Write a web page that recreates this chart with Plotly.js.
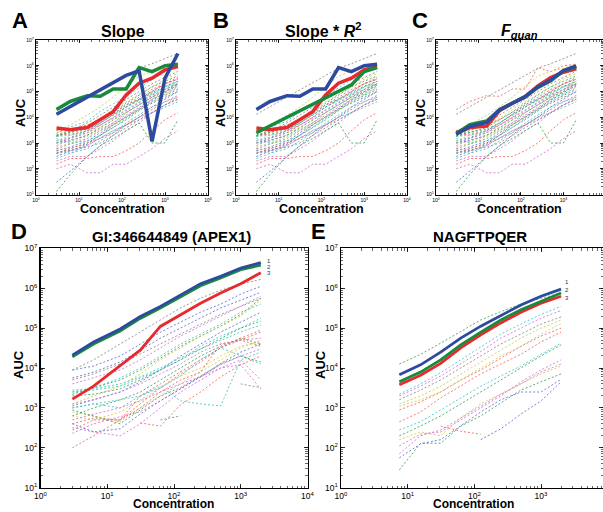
<!DOCTYPE html>
<html><head><meta charset="utf-8">
<script src="https://cdn.plot.ly/plotly-3.0.1.min.js"></script>
<style>html,body{margin:0;padding:0;background:#fff}#chart{width:603px;height:512px}</style>
</head><body><div id="chart"></div>
<script>
// ---------- data ----------
const topConc = [3, 6.25, 15.6, 31.25, 62.5, 125, 250, 500, 1000, 2000];
const dConc = [3, 6.25, 15.6, 31.25, 62.5, 125, 250, 500, 1000, 2000];
const eConc = [7.5, 15.6, 31.25, 62.5, 125, 250, 500, 1000, 2000];
const decadeVals = [1, 10, 100, 1e3, 1e4, 1e5, 1e6, 1e7];
const decadeLabels = ['10<sup>0</sup>','10<sup>1</sup>','10<sup>2</sup>','10<sup>3</sup>','10<sup>4</sup>','10<sup>5</sup>','10<sup>6</sup>','10<sup>7</sup>'];

// Panel A highlighted series
const aGreen = [2e4, 4.1e4, 6.9e4, 6.5e4, 1.25e5, 1.25e5, 8.5e5, 5.9e5, 1e6, 1.15e6];
const aBlue  = [1.3e4, 2.6e4, 6e4, 1.15e5, 2.2e5, 4.2e5, 6.3e5, 1.15e3, 3.3e5, 3e6];
const aRed   = [3.8e3, 3.3e3, 4e3, 8e3, 1.65e4, 7.4e4, 2.1e5, 3.3e5, 6.9e5, 9.3e5];
// Panel B highlighted series
const bBlue  = [2e4, 4.1e4, 6.9e4, 6.5e4, 1.25e5, 1.25e5, 8.5e5, 5.9e5, 1e6, 1.15e6];
const bRed   = [3.8e3, 3.3e3, 4e3, 8e3, 1.65e4, 7.4e4, 2.1e5, 3.3e5, 6.9e5, 9.3e5];
const bGreen = [2.5e3, 4.6e3, 9.8e3, 1.7e4, 3.2e4, 5.6e4, 1e5, 1.8e5, 5.9e5, 8.5e5];
// Panel C highlighted series
const cRed   = [2.5e3, 4e3, 4.5e3, 1.8e4, 3.5e4, 6.3e4, 1.66e5, 3.5e5, 5.6e5, 7.6e5];
const cGreen = [2.3e3, 5.2e3, 7.1e3, 1.9e4, 3.5e4, 6.1e4, 1.45e5, 2.6e5, 6.3e5, 8.9e5];
const cBlue  = [2.2e3, 4.4e3, 6.3e3, 1.95e4, 3.5e4, 6.3e4, 1.5e5, 2.8e5, 6.5e5, 9.8e5];
// Panel D highlighted series (1 blue, 2 green, 3 red)
const dBlue  = [2.1e4, 4.5e4, 9.5e4, 1.95e5, 3.5e5, 6.6e5, 1.3e6, 2e6, 3.2e6, 4.4e6];
const dGreen = [1.9e4, 4e4, 8.5e4, 1.75e5, 3.2e5, 6e5, 1.15e6, 1.8e6, 2.9e6, 3.8e6];
const dRed   = [1.66e3, 3.5e3, 1.15e4, 2.8e4, 1.1e5, 2.2e5, 4.2e5, 7.6e5, 1.3e6, 2.45e6];
// Panel E highlighted series
const eBlue  = [6.8e3, 1.2e4, 2.5e4, 5.6e4, 1.12e5, 2.1e5, 3.8e5, 6.3e5, 9.5e5];
const eGreen = [4.5e3, 7.9e3, 1.6e4, 3.8e4, 7.9e4, 1.6e5, 2.9e5, 4.8e5, 7.6e5];
const eRed   = [3.8e3, 6.6e3, 1.3e4, 3.2e4, 6.8e4, 1.35e5, 2.5e5, 4.2e5, 6.3e5];

// background peptides shared by panels A-C
const topBackground = [
  [1.3e4, 2.6e4, 6e4, 1.15e5, 2.2e5, 4.2e5, 8e5, 1.2e6, 1.9e6, 3e6],
  [2e4, 4.1e4, 6.9e4, 6.5e4, 1.25e5, 1.25e5, 8.5e5, 5.9e5, 1e6, 1.15e6],
  [3e3, 5e3, 1.2e4, 2.5e4, 6e4, 1.5e5, 4e5, 6e5, 8e5, 1.2e6],
  [2.4e3, 4.2e3, 7e3, 1.7e4, 3.3e4, 6e4, 1.4e5, 2.8e5, 5.8e5, 9e5],
  [1.8e3, 2.5e3, 4e3, 8e3, 1.6e4, 3.5e4, 7e4, 1.5e5, 2.5e5, 4e5],
  [1.2e3, 1.6e3, 3e3, 6e3, 1.3e4, 3e4, 5e4, 1e5, 2e5, 3e5],
  [1e3, 1.5e3, 2.5e3, 5e3, 1e4, 2e4, 4e4, 8e4, 1.5e5, 2.5e5],
  [8e2, 1.3e3, 2e3, 3.5e3, 6e3, 1.2e4, 2.5e4, 5e4, 1e5, 1.6e5],
  [2.5e3, 3e3, 5e3, 9e3, 2e4, 4e4, 8e4, 1.6e5, 3e5, 5e5],
  [6e2, 9e2, 1.5e3, 3e3, 6e3, 1.5e4, 3e4, 6e4, 1.2e5, 2e5],
  [2e3, 2.2e3, 3e3, 5e3, 1e4, 2.5e4, 5e4, 1e5, 2e5, 3e5],
  [4e2, 6e2, 1e3, 2e3, 4e3, 8e3, 1.8e4, 4e4, 7e4, 1.2e5],
  [3e2, 5e2, 9e2, 2e3, 5e3, 1e4, 2e4, 3.5e4, 6e4, 1e5],
  [1.5e3, 1e3, 1.2e3, 2e3, 4e3, 9e3, 2e4, 5e4, 8e4, 1.4e5],
  [2e2, 3e2, 3e2, 6e2, 1.2e3, 3e3, 6e3, 1.5e4, 3e4, 5e4],
  [1e2, 1.5e2, 7e1, 7e1, 1.5e2, 1.5e2, 3e2, 6e2, 1.5e3, 3e3],
  [1.3e1, 6e1, 3e2, 8e2, 1.5e3, 3e3, 6e3, 1e3, 1e3, 8e3],
  [1.5e2, 2.5e2, 2.5e2, 3e2, 3e2, 5e2, 1e3, 3e3, 8e3, 1.5e4],
  [5e2, 4e2, 6e2, 1.2e3, 2.5e3, 6e3, 1.2e4, 2.5e4, 4e4, 6e4],
  [7e2, 1e3, 1.8e3, 3e3, 5e3, 1e4, 2e4, 4e4, 8e4, 1.5e5],
  [2e3, 3e3, 6e3, 1.2e4, 2.5e4, 5e4, 1e5, 2e5, 3.5e5, 6e5],
  [5e2, 7e2, 1.2e3, 2.5e3, 5e3, 1.1e4, 2.2e4, 4.5e4, 9e4, 1.8e5],
  [3e3, 3.5e3, 5e3, 8e3, 1.5e4, 3e4, 6e4, 1.2e5, 2e5, 3.5e5],
  [1e3, 1.2e3, 2e3, 4e3, 8e3, 1.5e4, 3e4, 6e4, 1e5, 2e5],
  [2.5e2, 4e2, 8e2, 1.5e3, 3e3, 5e3, 1e4, 1.5e4, 2.5e4, 4e4],
  [6e2, 5e2, 8e2, 1.5e3, 3e3, 5e3, 8e3, 1.5e4, 3e4, 6e4],
  [1.2e3, 2e3, 2.5e3, 4e3, 8e3, 1.6e4, 3e4, 7e4, 1.2e5, 2.5e5],
  [3e1, 8e1, 3e2, 8e2, 2e3, 5e3, 1e4, 2.5e4, 5e4, 1e5],
  [4e2, 5e2, 7e2, 1e3, 2e3, 4e3, 8e3, 1.5e4, 3e4, 5e4],
  [2e3, 2.5e3, 3.5e3, 6e3, 1.2e4, 2.5e4, 4.5e4, 9e4, 1.6e5, 2.5e5],
  [4e2, 6e2, 1e3, 1.5e3, 2.5e3, 5e3, 1e4, 2e4, 4e4, 7e4],
  [1.8e3, 2e3, 3e3, 6e3, 1.2e4, 2.5e4, 5e4, 8e4, 1.5e5, 2e5],
  [1e3, 1.5e3, 2.5e3, 5e3, 9e3, 1.8e4, 3.5e4, 7e4, 1.2e5, 2e5]
];
const topBackgroundColors = 'krycgbcmykrgbcmmgrcykbrgcmybkgrcm';

// background peptides of protein APEX1 (panel D)
const dBackground = [
  [8.9e3, 1.6e4, 4e4, 7.9e4, 1.6e5, 3.2e5, 5.6e5, 8.9e5, 1.26e6, 1.66e6],
  [8.9e3, 1.12e4, 2e4, 4e4, 7.9e4, 1.41e5, 2.5e5, 4e5, 7.1e5, 1.12e6],
  [5.6e3, 7.9e3, 1.41e4, 2.8e4, 5.6e4, 1e5, 1.78e5, 3.2e5, 5e5, 7.9e5],
  [5e3, 7.1e3, 1.26e4, 2.2e4, 4e4, 7.1e4, 1.26e5, 2.2e5, 3.5e5, 5.6e5],
  [4e3, 5.6e3, 8.9e3, 1.6e4, 3.2e4, 6.3e4, 1.12e5, 2e5, 3.5e5, 6.3e5],
  [2.5e3, 3.2e3, 5.6e3, 1e4, 2e4, 4e4, 7.1e4, 1.26e5, 2.5e5, 4e5],
  [2.2e3, 3.2e3, 5e3, 8.9e3, 1.78e4, 3.5e4, 6.3e4, 1.12e5, 2.2e5, 5.6e5],
  [1.26e3, 2e3, 3.5e3, 7.1e3, 1.6e4, 3.2e4, 6.3e4, 1.12e5, 2e5, 5e5],
  [1.12e3, 1.6e3, 2.5e3, 4.5e3, 8.9e3, 2e4, 4e4, 7.9e4, 1.41e5, 2.5e5],
  [2.5e3, 2.8e3, 3.5e3, 5.6e3, 8.9e3, 1.6e4, 3.5e4, 6.3e4, 1e5, 1.78e5],
  [1e2, 2e2, 5e2, 1.26e3, 3.2e3, 7.1e3, 1.41e4, 3.2e4, 5e4, 7.9e4],
  [2.8e2, 5e2, 5e2, 2e3, 4e3, 7.9e3, 1.6e4, 3.2e4, 5.6e4, 8.9e4],
  [1.26e3, 1.6e3, 2.5e3, 4e3, 7.1e3, 1.26e4, 2.5e4, 4e4, 5e4, 5.6e4],
  [6.3e2, 1e3, 1.6e3, 2.5e3, 5e3, 1e4, 2e4, 3.5e4, 5.6e4, 4e4],
  [1e3, 1.26e3, 1e3, 2e3, 3.2e3, 6.3e3, 1.6e4, 3.2e4, 2e4, 1.26e4],
  [7.9e2, 6.3e2, 4.5e2, 1e3, 2e3, 4e3, 7.9e3, 1.6e4, 3.2e4, 5e4],
  [1e3, 1.26e3, 1.6e3, 2e3, 3.5e3, 1.5e3, 1.26e3, 1.12e3, 1.6e4, 2.5e4],
  [4e2, 5.6e2, 5e2, 1e3, 2.5e3, 5e3, 7.9e3, 4e4, 5e4, 3.5e4],
  [3.2e2, 2.5e2, 2e2, 4e2, 1e3, 2.5e3, 5e3, 1e4, 1.6e4, 5e3],
  [8.9e2, 6.3e2, 4e2, 8.9e2, 2e3, 3.2e3, 6.3e3, 1.26e4, 2e4, 1.41e4],
  [6.3e2, 5e2, 7.9e2, 1.6e3, 3.2e3, 6.3e3, 1e4, 2e4, 3.5e4, 4.5e4],
  [null, null, null, null, 5e2, 6.3e2, null, null, null, null],
  [null, null, null, 4.2e2, 3.5e2, 1.2e3, 2.5e3, 6e3, 1.2e4, 2e4],
  [2.3e2, 4e2, 6e2, 8e2, 1.5e3, 3e3, 6e3, 1.2e4, 2e4, 3e4],
  [null, null, null, null, null, null, null, null, 4e3, 3.2e3],
  [4e2, 2.5e2, 3e2, 7e2, 1.5e3, 3e3, 6e3, 1.3e4, 2.5e4, 4e4],
  [5e2, 7e2, 1e3, 1.5e3, 2.5e3, 4e3, 6e3, 1e4, 1.2e4, 3e3],
  [2.8e3, 3e3, 4e3, 6e3, 1e4, 1.8e4, 3e4, 5e4, 8e4, 1.2e5],
  [2e3, 2.2e3, 3e3, 5e3, 9e3, 1.6e4, 3e4, 5.5e4, 1e5, 1.5e5]
];
const dBackgroundColors = 'kbbkmcgybcrrmgcycrmgykrmkbmcg';

// background peptides of NAGFTPQER (panel E)
const eBackground = [
  [1.26e4, 2.2e4, 4.2e4, 8.3e4, 1.6e5, 2.6e5, 4e5, 5.6e5, 7.6e5],
  [2.2e3, 4e3, 7.6e3, 1.6e4, 3.3e4, 7.1e4, 1.26e5, 2.2e5, 3.5e5],
  [2e3, 3.5e3, 6.3e3, 1.26e4, 2.6e4, 5.6e4, 1e5, 1.78e5, 2.75e5],
  [1.6e3, 2.8e3, 5e3, 1e4, 2e4, 4e4, 7.1e4, 1.26e5, 1.9e5],
  [1.26e3, 2e3, 3.5e3, 7.1e3, 1.41e4, 2.8e4, 5.6e4, 1e5, 1.6e5],
  [8.9e2, 1.41e3, 2.5e3, 5e3, 8.9e3, 1.78e4, 3.5e4, 6.3e4, 1e5],
  [4.5e2, 7.9e2, 1.78e3, 3.5e3, 7.1e3, 1.26e4, 2.2e4, 4.5e4, 7.9e4],
  [2.8e2, 4.5e2, 8.9e2, 1.78e3, 3.5e3, 6.3e3, 1.12e4, 2.2e4, 4.2e4],
  [2e2, 3.5e2, 6.3e2, 1.26e3, 2.5e3, 5e3, 1e4, 2e4, 3.8e4],
  [1.12e2, 2.2e2, 2.5e2, 5e2, 1e3, 2e3, 4.5e3, 8.9e3, 1.6e4],
  [2.8e1, 1.3e2, 1.3e2, 3.5e2, 6.3e2, 1.3e3, 2.8e3, 4.5e3, 7.1e3],
  [5.6e1, 1.26e2, 1.6e2, 3.5e2, 7.9e2, 1.6e3, 2.5e3, 2.5e3, 5.2e3],
  [1.6e2, 2.5e2, 2e2, 5.6e2, 1.26e3, 2.2e3, 4e3, 7.1e3, 1.12e4],
  [null, null, 3.5e2, 2.6e2, 2.2e2, null, null, null, null],
  [null, null, null, null, 1.6e2, 3e2, 7e2, 1.5e3, 4.5e3],
  [7.1e1, 2e2, 2.8e2, 5.6e2, 1.12e3, 2.2e3, 4e3, 7.9e3, 1.26e4],
  [1.1e3, 1.6e3, 2.5e3, 5e3, 1e4, 2e4, 3.5e4, 7e4, 1.3e5]
];
const eBackgroundColors = 'gcmkyrrcgmgbyrbmy';

// ---------- styles ----------
const dashPalette = {r:'#ee5a50', g:'#2f9a4a', b:'#5565cc', c:'#33c2c8', m:'#d266d2', y:'#c8c838', k:'#808080'};
const boldBlue = '#2d4a9e', boldGreen = '#178a3c', boldRed = '#e8292d';
const W = 603, H = 512;
const px = v => v / W, py = v => 1 - v / H;

const traces = [];
function addBg(seriesList, colors, x, xa, ya) {
  seriesList.forEach((s, i) => traces.push({
    x: x, y: s, xaxis: xa, yaxis: ya, type: 'scatter', mode: 'lines',
    line: {color: dashPalette[colors[i % colors.length]], width: 0.8, dash: '2px,2px'},
    hoverinfo: 'skip', showlegend: false, connectgaps: false
  }));
}
function addBold(s, color, x, xa, ya, w) {
  traces.push({x: x, y: s, xaxis: xa, yaxis: ya, type: 'scatter', mode: 'lines',
    line: {color: color, width: w}, showlegend: false});
}

// A
addBg(topBackground, topBackgroundColors, topConc, 'x', 'y');
addBold(aRed, boldRed, topConc, 'x', 'y', 3.5);
addBold(aGreen, boldGreen, topConc, 'x', 'y', 3.5);
addBold(aBlue, boldBlue, topConc, 'x', 'y', 3.5);
// B
addBg(topBackground, topBackgroundColors, topConc, 'x2', 'y2');
addBold(bRed, boldRed, topConc, 'x2', 'y2', 3.5);
addBold(bGreen, boldGreen, topConc, 'x2', 'y2', 3.5);
addBold(bBlue, boldBlue, topConc, 'x2', 'y2', 3.5);
// C
addBg(topBackground, topBackgroundColors, topConc, 'x3', 'y3');
addBold(cRed, boldRed, topConc, 'x3', 'y3', 3.5);
addBold(cGreen, boldGreen, topConc, 'x3', 'y3', 3.5);
addBold(cBlue, boldBlue, topConc, 'x3', 'y3', 3.5);
// D
addBg(dBackground, dBackgroundColors, dConc, 'x4', 'y4');
addBold(dRed, boldRed, dConc, 'x4', 'y4', 2.8);
addBold(dGreen, boldGreen, dConc, 'x4', 'y4', 2.8);
addBold(dBlue, boldBlue, dConc, 'x4', 'y4', 2.8);
// E
addBg(eBackground, eBackgroundColors, eConc, 'x5', 'y5');
addBold(eRed, boldRed, eConc, 'x5', 'y5', 2.8);
addBold(eGreen, boldGreen, eConc, 'x5', 'y5', 2.8);
addBold(eBlue, boldBlue, eConc, 'x5', 'y5', 2.8);

const FONT = 'Liberation Sans, Arial, sans-serif';
function axis(dom, range, anchor, fsize, tlen, lw) {
  return {
    type: 'log', domain: dom, range: range, anchor: anchor,
    tickmode: 'array', tickvals: decadeVals, ticktext: decadeLabels,
    ticks: 'inside', ticklen: tlen, tickwidth: 0.8, tickcolor: '#000',
    minor: {ticks: 'inside', ticklen: tlen * 0.55, tickwidth: 0.6, tickcolor: '#000', dtick: 'D1', showgrid: false},
    showline: true, linecolor: '#000', linewidth: lw, mirror: 'allticks',
    showgrid: false, zeroline: false,
    tickfont: {family: FONT, size: fsize, color: '#000'}
  };
}
const topY = [py(194.5), py(40)];
const botY = [py(487.7), py(248.3)];

const annotations = [];
function ann(text, x, y, size, extra) {
  annotations.push(Object.assign({text: text, x: px(x), y: py(y), xref: 'paper', yref: 'paper',
    showarrow: false, xanchor: 'center', yanchor: 'middle',
    font: {family: FONT, size: size, color: '#000'}}, extra || {}));
}
// panel letters
ann('<b>A</b>', 20, 20, 22); ann('<b>B</b>', 221, 20, 22); ann('<b>C</b>', 420, 20, 22);
ann('<b>D</b>', 19, 231, 22); ann('<b>E</b>', 318, 231, 22);
// panel titles
ann('<b>Slope</b>', 123, 31, 16);
ann('<b>Slope * <i>R</i><sup>2</sup></b>', 323, 30, 16);
ann('<b><i>F<sub>quan</sub></i></b>', 519, 31, 16);
ann('<b>GI:346644849 (APEX1)</b>', 171, 236, 15);
ann('<b>NAGFTPQER</b>', 480, 236, 15);
// axis titles
[[122, 209], [321, 209], [519, 209]].forEach(p => ann('<b>Concentration</b>', p[0], p[1], 12.5));
[[173, 512], [473, 512]].forEach(p => ann('<b>Concentration</b>', p[0], p[1], 12, {yanchor: 'bottom', borderpad: 0}));
[[20, 113], [220, 113], [420, 113], [18, 365], [320, 365]].forEach(p => ann('<b>AUC</b>', p[0], p[1], 13, {textangle: -90}));
// curve numbers
const numFont = {family: FONT, size: 6, color: '#333'};
ann('1', 265, 260.5, 6, {xanchor: 'left', font: numFont});
ann('2', 265, 266.5, 6, {xanchor: 'left', font: numFont});
ann('3', 265, 272.5, 6, {xanchor: 'left', font: numFont});
ann('1', 563, 282, 6, {xanchor: 'left', font: numFont});
ann('2', 563, 290, 6, {xanchor: 'left', font: numFont});
ann('3', 563, 297.5, 6, {xanchor: 'left', font: numFont});

const layout = {
  width: W, height: H, margin: {l: 0, r: 0, t: 0, b: 0},
  paper_bgcolor: '#fff', plot_bgcolor: '#fff', showlegend: false,
  font: {family: FONT, color: '#000'},
  xaxis:  axis([px(36), px(208)], [0, 4], 'y', 5, 3, 1.2),
  yaxis:  axis(topY, [1, 7], 'x', 5, 3, 1.2),
  xaxis2: axis([px(236), px(407)], [0, 4], 'y2', 5, 3, 1.2),
  yaxis2: axis(topY, [1, 7], 'x2', 5, 3, 1.2),
  xaxis3: axis([px(436), 1], [0, 3.93], 'y3', 5, 3, 1.2),
  yaxis3: axis(topY, [1, 7], 'x3', 5, 3, 1.2),
  xaxis4: axis([px(40.5), px(307.5)], [0, 4], 'y4', 8.5, 4, 1.5),
  yaxis4: axis(botY, [1, 7], 'x4', 8.5, 4, 1.5),
  xaxis5: axis([px(341), 1], [0, 3.93], 'y5', 8.5, 4, 1.5),
  yaxis5: axis(botY, [1, 7], 'x5', 8.5, 4, 1.5),
  annotations: annotations
};
Plotly.newPlot('chart', traces, layout, {staticPlot: true, displayModeBar: false});
</script>
</body></html>
